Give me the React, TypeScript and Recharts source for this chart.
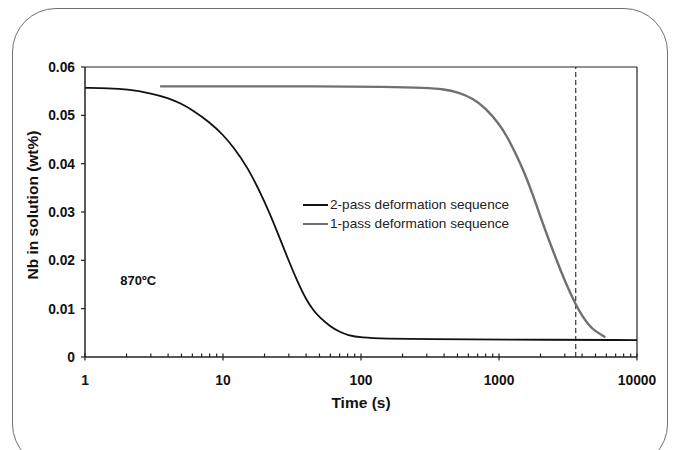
import React from 'react';
import { LineChart, Line, XAxis, YAxis, ReferenceLine, ReferenceDot, Legend } from 'recharts';

// ---- data ----
const twoPassT = [1, 1.5, 2, 3, 4, 5, 6, 8, 10, 12, 15, 20, 25, 30, 35, 40, 45, 50, 60, 70, 80, 100, 150, 300, 1000, 10000];
const twoPassV = [0.0557, 0.0556, 0.0554, 0.0546, 0.0536, 0.0524, 0.0511, 0.0486, 0.0460, 0.0433, 0.0394, 0.0323, 0.0256, 0.0198, 0.0153, 0.0119, 0.0097, 0.0082, 0.0063, 0.0052, 0.0045, 0.0040, 0.0038, 0.0037, 0.0036, 0.0035];

const onePassT = [3.5, 10, 50, 150, 300, 400, 500, 650, 800, 1000, 1150, 1300, 1500, 1750, 2000, 2300, 2600, 3000, 3600, 4000, 4500, 5000, 5900];
const onePassV = [0.0560, 0.0560, 0.0560, 0.0559, 0.0557, 0.0554, 0.0548, 0.0535, 0.0515, 0.0483, 0.0455, 0.0425, 0.0387, 0.0338, 0.0289, 0.0242, 0.0202, 0.0157, 0.0108, 0.0085, 0.0065, 0.0053, 0.0041];

const seriesNames = ['2-pass deformation sequence', '1-pass deformation sequence'];
const seriesColors = ['#111111', '#707070'];

const xTicks = [1, 2, 3, 4, 5, 6, 7, 8, 9, 10, 20, 30, 40, 50, 60, 70, 80, 90, 100, 200, 300, 400, 500, 600, 700, 800, 900, 1000, 2000, 3000, 4000, 5000, 6000, 7000, 8000, 9000, 10000];
const xMajor = [1, 10, 100, 1000, 10000];
const yTicks = [0, 0.01, 0.02, 0.03, 0.04, 0.05, 0.06];
const yTickLabels = ['0', '0.01', '0.02', '0.03', '0.04', '0.05', '0.06'];

const markerTime = 3600;
const tempLabel = '870ºC';
const tempPos = { t: 1.8, v: 0.0159 };
const xTitle = 'Time (s)';
const yTitle = 'Nb in solution (wt%)';

const twoPass = twoPassT.map((t, i) => ({ t, v: twoPassV[i] }));
const onePass = onePassT.map((t, i) => ({ t, v: onePassV[i] }));

const FONT = '"Liberation Sans", Arial, Helvetica, sans-serif';
const INK = '#111111';

const XTick = (props: any) => {
  const { x, y, payload } = props;
  const v = payload.value;
  const major = xMajor.includes(v);
  return (
    <g>
      <line x1={x} x2={x} y1={y - 3.5} y2={major ? y + 3.5 : y} stroke="#222" strokeWidth={1.2} />
      {major && (
        <text x={x} y={y + 28} textAnchor="middle" fontFamily={FONT} fontWeight="bold" fontSize={13.8} fill={INK}>
          {String(v)}
        </text>
      )}
    </g>
  );
};

const LegendBox = () => (
  <div style={{ fontFamily: FONT, fontSize: 13.6, color: '#222', lineHeight: '19px' }}>
    {seriesNames.map((n, i) => (
      <div key={n} style={{ display: 'flex', alignItems: 'center', whiteSpace: 'nowrap' }}>
        <span style={{ display: 'inline-block', width: 25, height: 0, borderTop: `2px solid ${seriesColors[i]}`, marginRight: 2 }} />
        <span>{n}</span>
      </div>
    ))}
  </div>
);

export default function App() {
  return (
    <div style={{ position: 'absolute', left: 0, top: 0, width: 673, height: 450, overflow: 'hidden', background: '#fff' }}>
      <div
        style={{
          position: 'absolute',
          left: 12,
          top: 8,
          width: 656,
          height: 460,
          border: '1.5px solid #707070',
          borderRadius: 44,
          boxSizing: 'border-box',
        }}
      />
      <div style={{ position: 'absolute', left: 0, top: 0 }}>
        <LineChart width={673} height={450} margin={{ top: 67, right: 36, bottom: 0, left: 0 }}>
          <XAxis
            dataKey="t"
            type="number"
            scale="log"
            domain={[1, 10000]}
            ticks={xTicks}
            interval={0}
            allowDataOverflow
            height={93}
            tickSize={0}
            tickMargin={0}
            tickLine={false}
            tick={<XTick />}
            axisLine={{ stroke: '#222', strokeWidth: 1.5 }}
            label={() => (
              <text x={361} y={408} textAnchor="middle" fontFamily={FONT} fontWeight="bold" fontSize={15.5} fill={INK}>
                {xTitle}
              </text>
            )}
          />
          <YAxis
            type="number"
            domain={[0, 0.06]}
            ticks={yTicks}
            interval={0}
            width={85}
            tickSize={4}
            tickMargin={6}
            tickFormatter={(v: number) => yTickLabels[yTicks.indexOf(v)] ?? String(v)}
            tick={{ fontFamily: FONT, fontWeight: 'bold', fontSize: 13.8, fill: INK }}
            tickLine={{ stroke: '#222', strokeWidth: 1.2 }}
            axisLine={{ stroke: '#222', strokeWidth: 1.5 }}
            label={() => (
              <text
                x={32}
                y={205}
                transform="rotate(-90 32 205)"
                textAnchor="middle"
                dominantBaseline="central"
                fontFamily={FONT}
                fontWeight="bold"
                fontSize={15.5}
                fill={INK}
              >
                {yTitle}
              </text>
            )}
          />
          <ReferenceLine y={0.06} stroke="#222" strokeWidth={1.2} />
          <ReferenceLine x={10000} stroke="#222" strokeWidth={1.2} />
          <ReferenceLine x={markerTime} stroke="#111" strokeWidth={1} strokeDasharray="5 3" />
          <ReferenceDot
            x={tempPos.t}
            y={tempPos.v}
            r={0}
            fill="none"
            stroke="none"
            label={(p: any) => {
              const vb = p.viewBox || { x: 0, y: 0 };
              return (
                <text x={vb.x} y={vb.y} dominantBaseline="central" fontFamily={FONT} fontWeight="bold" fontSize={13} fill={INK}>
                  {tempLabel}
                </text>
              );
            }}
          />
          <Line
            data={onePass}
            dataKey="v"
            name={seriesNames[1]}
            type="basis"
            stroke={seriesColors[1]}
            strokeWidth={2.4}
            dot={false}
            isAnimationActive={false}
          />
          <Line
            data={twoPass}
            dataKey="v"
            name={seriesNames[0]}
            type="basis"
            stroke={seriesColors[0]}
            strokeWidth={1.8}
            dot={false}
            isAnimationActive={false}
          />
          <Legend
            layout="horizontal"
            verticalAlign="middle"
            align="center"
            content={() => <LegendBox />}
            wrapperStyle={{ left: 303, top: 195, width: 'auto' }}
          />
        </LineChart>
      </div>
    </div>
  );
}
